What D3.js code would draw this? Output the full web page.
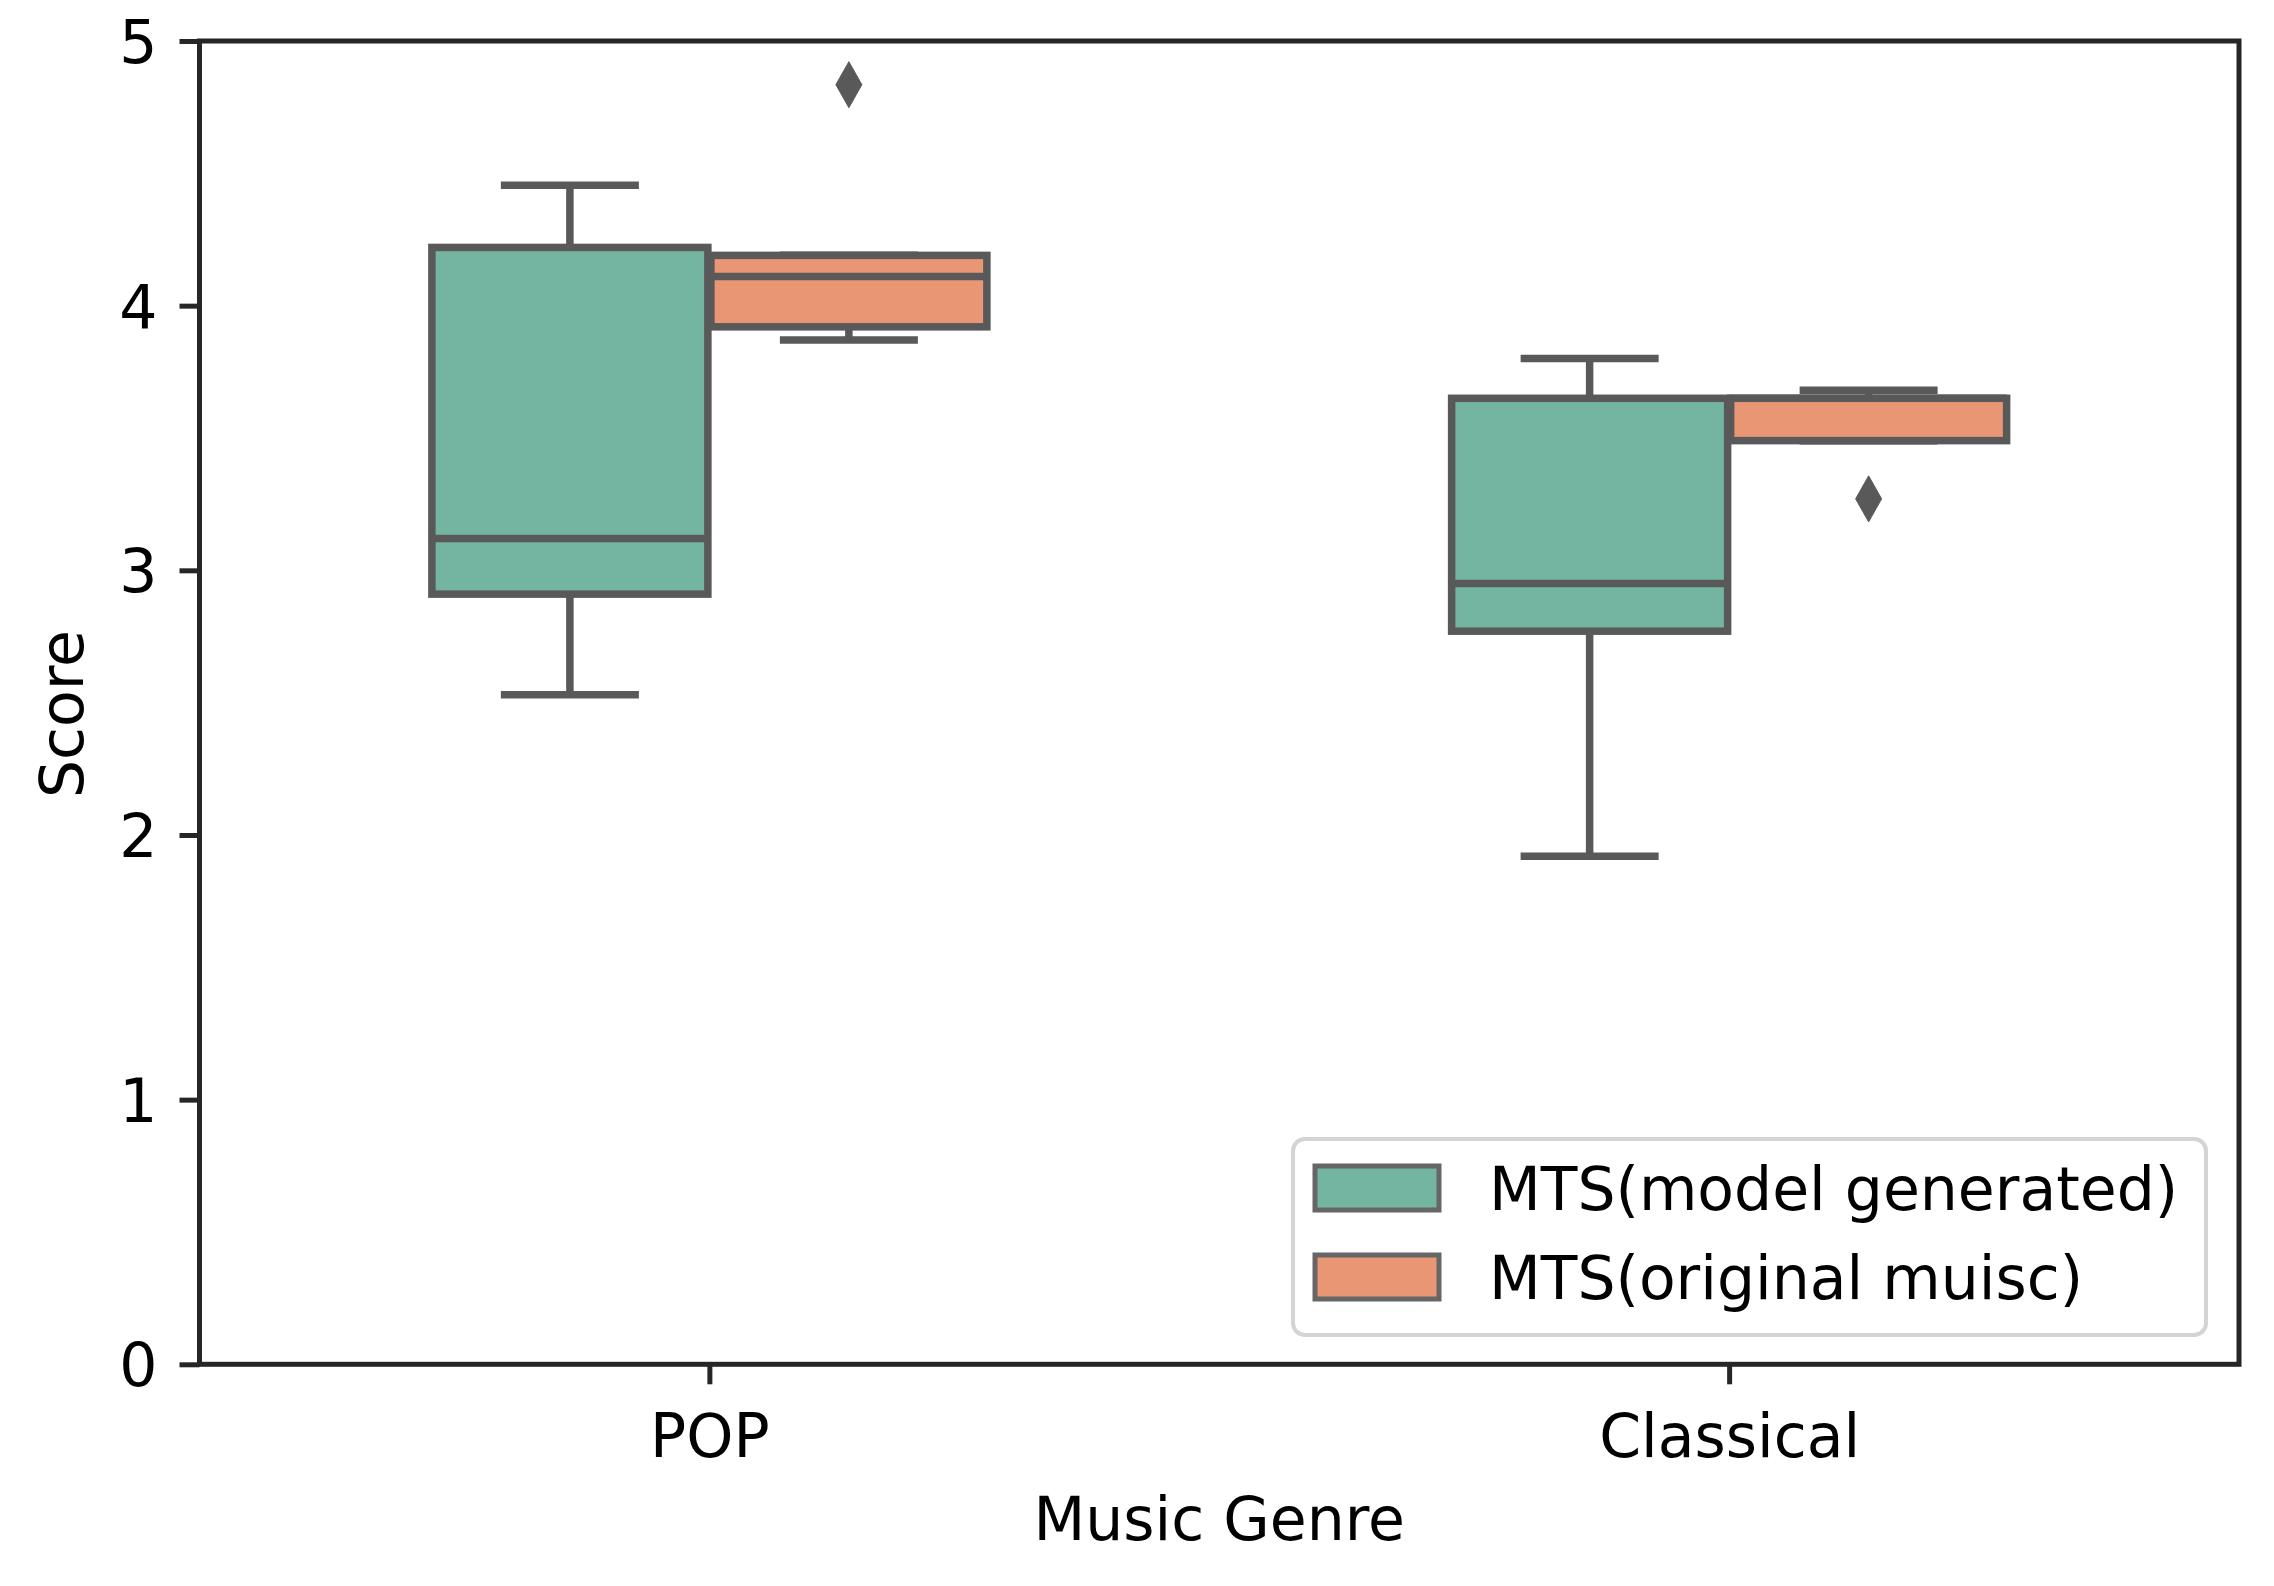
<!DOCTYPE html>
<html>
<head>
<meta charset="utf-8">
<script src="https://cdn.jsdelivr.net/npm/d3@7"></script>
<style>
  html, body { margin: 0; padding: 0; background: #fff; }
  svg { display: block; font-family: "DejaVu Sans", sans-serif; }
</style>
</head>
<body>
<svg id="chart" width="2274" height="1586"></svg>
<script>
// ---- data ----
const categories = ["POP", "Classical"];
const series = ["MTS(model generated)", "MTS(original muisc)"];
const seriesColors = ["#73b5a0", "#e99675"];
const yTicks = [0, 1, 2, 3, 4, 5];

// [lowerWhisker, q1, median, q3, upperWhisker] per category
const modelStats = [
  [2.53, 2.91, 3.12, 4.22, 4.455],
  [1.92, 2.77, 2.95, 3.65, 3.80]
];
const originalStats = [
  [3.87, 3.92, 4.11, 4.19, 4.19],
  [3.49, 3.49, 3.65, 3.65, 3.68]
];
const modelOutliers = [[], []];
const originalOutliers = [[4.835], [3.27]];

const xLabel = "Music Genre";
const yLabel = "Score";

// ---- layout ----
const W = 2274, H = 1586;
const plot = { left: 199.5, right: 2239, top: 41, bottom: 1364.3 };
const FONT = 60;
const lineGray = "#595959";
const spineColor = "#262626";

const svg = d3.select("#chart");

const y = d3.scaleLinear().domain([0, 5]).range([plot.bottom, plot.top]);
const x = d3.scalePoint().domain(categories).range([plot.left, plot.right]).padding(0.5);
const p = 3 / 279;
const hue = d3.scaleBand().domain(series).range([-279, 279]).paddingInner(p).paddingOuter(p / 2);

const statsBySeries = [modelStats, originalStats];
const outliersBySeries = [modelOutliers, originalOutliers];

const boxes = [];
series.forEach((s, si) => {
  categories.forEach((c, ci) => {
    const st = statsBySeries[si][ci];
    boxes.push({ s, si, c, ci, lo: st[0], q1: st[1], med: st[2], q3: st[3], hi: st[4], out: outliersBySeries[si][ci] });
  });
});

const g = svg.append("g");
const bw = hue.bandwidth();
const LW = 7.5;

boxes.forEach(b => {
  const x0 = x(b.c) + hue(b.s);
  const cx = x0 + bw / 2;
  const grp = g.append("g");
  // whiskers
  grp.append("line").attr("x1", cx).attr("x2", cx).attr("y1", y(b.q1)).attr("y2", y(b.lo))
    .attr("stroke", lineGray).attr("stroke-width", LW);
  grp.append("line").attr("x1", cx).attr("x2", cx).attr("y1", y(b.q3)).attr("y2", y(b.hi))
    .attr("stroke", lineGray).attr("stroke-width", LW);
  // caps
  [b.lo, b.hi].forEach(v => {
    grp.append("line").attr("x1", cx - bw / 4).attr("x2", cx + bw / 4).attr("y1", y(v)).attr("y2", y(v))
      .attr("stroke", lineGray).attr("stroke-width", LW);
  });
  // box
  grp.append("rect").attr("x", x0).attr("width", bw)
    .attr("y", y(b.q3)).attr("height", Math.max(0.01, y(b.q1) - y(b.q3)))
    .attr("fill", seriesColors[b.si]).attr("stroke", lineGray).attr("stroke-width", LW);
  // median
  grp.append("line").attr("x1", x0).attr("x2", x0 + bw).attr("y1", y(b.med)).attr("y2", y(b.med))
    .attr("stroke", lineGray).attr("stroke-width", LW);
  // outliers (thin diamonds)
  b.out.forEach(v => {
    const hh = 23, hw = 13;
    const yy = y(v);
    grp.append("path")
      .attr("d", `M${cx},${yy - hh}L${cx + hw},${yy}L${cx},${yy + hh}L${cx - hw},${yy}Z`)
      .attr("fill", lineGray).attr("stroke", lineGray).attr("stroke-width", 1);
  });
});

// ---- axes ----
const yAxis = d3.axisLeft(y).tickValues(yTicks).tickFormat(d3.format("d")).tickSize(20).tickSizeOuter(0).tickPadding(22);
const ya = svg.append("g").attr("transform", `translate(${plot.left},0)`).call(yAxis);
ya.select(".domain").remove();
ya.selectAll(".tick line").attr("stroke", spineColor).attr("stroke-width", 5);
ya.selectAll(".tick text").attr("font-size", FONT).attr("font-family", "DejaVu Sans").attr("fill", "#000").attr("dy", "0.36em");

const xAxis = d3.axisBottom(x).tickSize(20).tickSizeOuter(0).tickPadding(30);
const xa = svg.append("g").attr("transform", `translate(0,${plot.bottom})`).call(xAxis);
xa.select(".domain").remove();
xa.selectAll(".tick line").attr("stroke", spineColor).attr("stroke-width", 5);
xa.selectAll(".tick text").attr("font-size", FONT).attr("font-family", "DejaVu Sans").attr("fill", "#000");

// spines
svg.append("rect")
  .attr("x", plot.left).attr("y", plot.top)
  .attr("width", plot.right - plot.left).attr("height", plot.bottom - plot.top)
  .attr("fill", "none").attr("stroke", spineColor).attr("stroke-width", 5);

// axis labels
svg.append("text").attr("x", (plot.left + plot.right) / 2).attr("y", 1540)
  .attr("text-anchor", "middle").attr("font-size", FONT).attr("fill", "#000").text(xLabel);
svg.append("text").attr("transform", `translate(83,714) rotate(-90)`)
  .attr("text-anchor", "middle").attr("font-size", FONT).attr("fill", "#000").text(yLabel);

// ---- legend ----
const lg = svg.append("g");
lg.append("rect").attr("x", 1293).attr("y", 1139).attr("width", 913).attr("height", 196)
  .attr("rx", 12).attr("ry", 12)
  .attr("fill", "#fff").attr("fill-opacity", 0.8).attr("stroke", "#d4d4d4").attr("stroke-width", 4);
const legendRows = d3.scalePoint().domain(series).range([1188, 1277]);
series.forEach((s, i) => {
  const cy = legendRows(s);
  lg.append("rect").attr("x", 1315).attr("y", cy - 22).attr("width", 124).attr("height", 44)
    .attr("fill", seriesColors[i]).attr("stroke", "#666666").attr("stroke-width", 5);
  lg.append("text").attr("x", 1489).attr("y", cy + 22).attr("font-size", FONT).attr("fill", "#000").text(s);
});
</script>
</body>
</html>
